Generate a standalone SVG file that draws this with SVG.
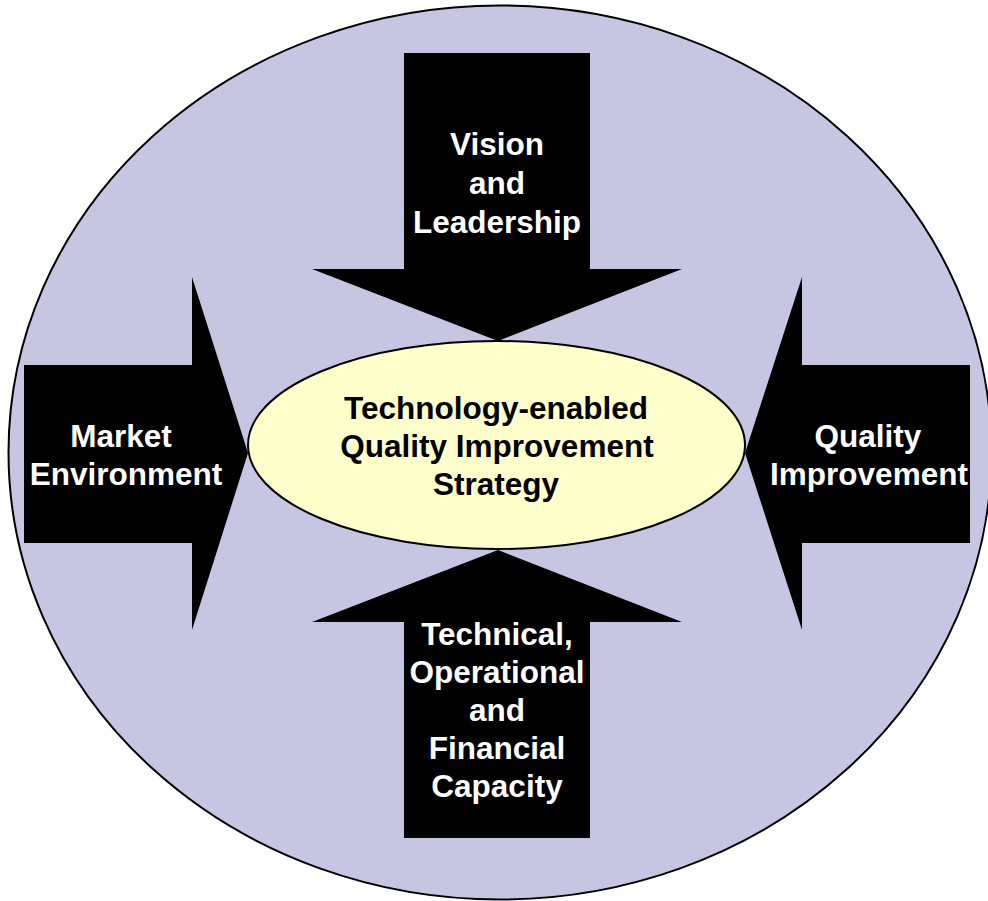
<svg xmlns="http://www.w3.org/2000/svg" width="988" height="901" viewBox="0 0 988 901">
  <style>
    .bg { fill: #ffffff; }
    .outer { fill: #C6C6E3; stroke: #000000; stroke-width: 2; }
    .arrow { fill: #000000; stroke: none; }
    .core { fill: #FFFFCC; stroke: #000000; stroke-width: 2; }
    .lbl { font-family: "Liberation Sans", Arial, sans-serif; font-weight: bold; font-size: 31.5px; text-anchor: middle; }
    .w { fill: #ffffff; }
    .k { fill: #000000; }
  </style>
  <rect class="bg" x="0" y="0" width="988" height="901"/>
  <g id="context">
    <ellipse class="outer" cx="500" cy="452.5" rx="491.5" ry="447"/>
  </g>
  <g id="vision">
    <polygon class="arrow" points="404,53 590,53 590,269 682,269 498,341 312,269 404,269"/>
    <text class="lbl w" x="497" y="155">Vision</text>
    <text class="lbl w" x="497" y="194">and</text>
    <text class="lbl w" x="497" y="233">Leadership</text>
  </g>
  <g id="capacity">
    <polygon class="arrow" points="498,550 682,622 590,622 590,838 404,838 404,622 312,622"/>
    <text class="lbl w" x="497" y="645">Technical,</text>
    <text class="lbl w" x="497" y="683">Operational</text>
    <text class="lbl w" x="497" y="721">and</text>
    <text class="lbl w" x="497" y="759">Financial</text>
    <text class="lbl w" x="497" y="797">Capacity</text>
  </g>
  <g id="market">
    <polygon class="arrow" points="24,365 192,365 192,277 248,453 192,630 192,543 24,543"/>
    <text class="lbl w" x="121" y="447">Market</text>
    <text class="lbl w" x="126" y="485">Environment</text>
  </g>
  <g id="quality">
    <polygon class="arrow" points="970,365 802,365 802,277 745,453 802,630 802,543 970,543"/>
    <text class="lbl w" x="868" y="447">Quality</text>
    <text class="lbl w" x="869" y="485">Improvement</text>
  </g>
  <g id="strategy">
    <ellipse class="core" cx="496.5" cy="445" rx="248.5" ry="104"/>
    <text class="lbl k" x="496" y="419">Technology-enabled</text>
    <text class="lbl k" x="497" y="457">Quality Improvement</text>
    <text class="lbl k" x="496" y="495">Strategy</text>
  </g>
  <g id="connectors"/>
</svg>
